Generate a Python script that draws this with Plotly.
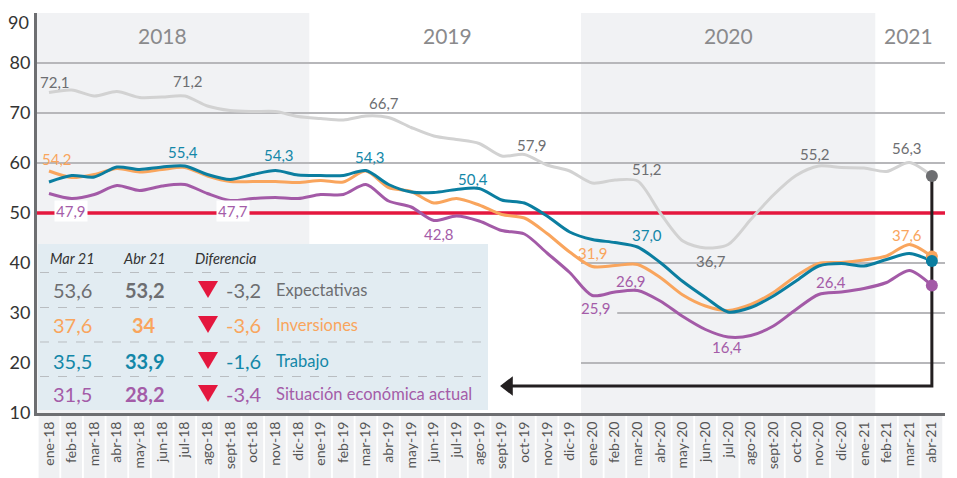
import plotly.graph_objects as go

months = ["ene-18","feb-18","mar-18","abr-18","may-18","jun-18","jul-18","ago-18","sept-18","oct-18","nov-18","dic-18",
          "ene-19","feb-19","mar-19","abr-19","may-19","jun-19","jul-19","ago-19","sept-19","oct-19","nov-19","dic-19",
          "ene-20","feb-20","mar-20","abr-20","may-20","jun-20","jul-20","ago-20","sept-20","oct-20","nov-20","dic-20",
          "ene-21","feb-21","mar-21","abr-21"]

expectativas = [74.1,74.6,73.4,74.3,73.1,73.2,73.4,71.4,70.5,70.3,70.3,69.3,
                68.9,68.6,69.4,69.1,67.1,65.4,64.7,63.9,61.4,61.7,59.6,58.4,
                56.0,56.6,56.4,50.0,44.4,43.0,43.7,48.7,53.6,57.5,59.4,59.1,
                59.0,58.3,60.1,57.4]
inversiones = [58.4,57.1,57.7,58.9,58.2,58.7,59.1,57.4,56.3,56.3,56.3,56.1,
               56.5,56.2,58.4,55.1,54.3,52.0,52.9,51.6,49.7,49.0,45.9,42.2,
               39.3,39.5,39.7,37.1,33.6,31.4,30.5,31.7,34.1,37.4,39.9,40.1,
               40.6,41.4,43.7,41.3]
trabajo = [56.2,57.5,57.2,59.2,58.7,59.2,59.4,57.7,56.7,57.7,58.5,57.6,
           57.5,57.5,58.5,55.7,54.2,54.1,54.7,54.9,52.6,52.0,49.4,46.2,
           44.7,44.1,43.2,40.1,36.3,33.1,30.2,31.1,33.4,36.4,39.4,39.9,
           39.4,40.7,41.9,40.4]
situacion = [53.9,52.9,53.7,55.5,54.5,55.4,55.7,53.9,52.5,52.9,53.1,52.9,
             53.7,53.7,55.7,52.4,51.2,48.5,49.4,48.4,46.5,45.8,42.0,38.1,
             33.5,34.2,34.5,32.4,29.3,26.7,25.2,25.5,27.4,30.7,33.7,34.2,
             34.9,36.1,38.5,35.5]

series_names = ["Expectativas", "Inversiones", "Trabajo", "Situación económica actual"]
mar21 = ["53,6", "37,6", "35,5", "31,5"]
abr21 = ["53,2", "34", "33,9", "28,2"]
diferencia = ["-3,2", "-3,6", "-1,6", "-3,4"]
years = ["2018", "2019", "2020", "2021"]
y_ticks = [10, 20, 30, 40, 50, 60, 70, 80]
y_top_label = "90"

# (series index, month index, label text, xshift, yshift)
point_labels = [
    (0, 0, "72,1", 6, 11), (0, 6, "71,2", 3, 15), (0, 15, "66,7", -5, 15), (0, 21, "57,9", 8, 10),
    (0, 26, "51,2", 9, 12), (0, 29, "36,7", 6, -13), (0, 34, "55,2", -4, 12), (0, 38, "56,3", -2, 15),
    (1, 0, "54,2", 8, 12), (1, 24, "31,9", 1, 14), (1, 38, "37,6", -2, 10),
    (2, 6, "55,4", -2, 14), (2, 10, "54,3", 4, 16), (2, 14, "54,3", 4, 14), (2, 19, "50,4", -6, 10),
    (2, 26, "37,0", 9, 12),
    (3, 1, "47,9", -1, -12), (3, 8, "47,7", 3, -10), (3, 17, "42,8", 5, -13), (3, 24, "25,9", 4, -12),
    (3, 26, "26,9", -7, 10), (3, 30, "16,4", -1, -10), (3, 34, "26,4", 12, 13),
]

data = [expectativas, inversiones, trabajo, situacion]
line_colors = ["#d2d2d2", "#f9a55d", "#0b7ea0", "#a35aa7"]
text_colors = ["#6d6e71", "#f9a55d", "#1387a8", "#a45ca8"]
marker_colors = ["#6d6e71", "#f9a55d", "#0b7ea0", "#a35aa7"]

FONT = "Lato, 'Open Sans', sans-serif"
W, H = 957, 478
L, R, T, B = 37, 12, 13, 65
PW = W - L - R
PH = H - T - B
XMIN, XMAX = -0.53, 39.58

def px(xp):
    return (xp - L) / PW

def py(yp):
    return (H - B - yp) / PH

fig = go.Figure()
n = len(months)
xs = list(range(n))

shapes = []
# year bands
shapes.append(dict(type="rect", xref="x", yref="paper", x0=XMIN, x1=11.5, y0=0, y1=1,
                   fillcolor="#f1f2f4", line_width=0, layer="below"))
shapes.append(dict(type="rect", xref="x", yref="paper", x0=23.5, x1=36.5, y0=0, y1=1,
                   fillcolor="#f1f2f4", line_width=0, layer="below"))
# tick label cells
for i in xs:
    shapes.append(dict(type="rect", xref="x", yref="paper", x0=i - 0.46, x1=i + 0.46,
                       y0=py(415), y1=py(480), fillcolor="#eff0f2", line_width=0, layer="below"))
# gridlines
for v in [60, 70, 80]:
    shapes.append(dict(type="line", xref="x", yref="y", x0=XMIN, x1=XMAX, y0=v, y1=v,
                       line=dict(color="#b7b7ba", width=2), layer="below"))
for v, start in [(40, 23.5), (30, 25.1), (20, 23.5)]:
    shapes.append(dict(type="line", xref="x", yref="y", x0=start, x1=XMAX, y0=v, y1=v,
                       line=dict(color="#b7b7ba", width=2), layer="below"))
# red reference line
shapes.append(dict(type="line", xref="x", yref="y", x0=XMIN, x1=XMAX, y0=50, y1=50,
                   line=dict(color="#e4173e", width=3.5), layer="below"))
# table box
shapes.append(dict(type="rect", xref="paper", yref="paper", x0=px(38), x1=px(488), y0=py(410), y1=py(244),
                   fillcolor="#e2ecf2", line_width=0, layer="below"))
row_y = [290, 325, 361, 394]
for sep in [272.5, 307.5, 342, 376.5]:
    shapes.append(dict(type="line", xref="paper", yref="paper", x0=px(40), x1=px(486), y0=py(sep), y1=py(sep),
                       line=dict(color="#b9bdc1", width=1, dash="dash"), layer="below"))
# red triangles
for ry in row_y:
    path = f"M {px(198)} {py(ry - 9)} L {px(218)} {py(ry - 9)} L {px(208)} {py(ry + 8)} Z"
    shapes.append(dict(type="path", xref="paper", yref="paper", path=path,
                       fillcolor="#e4173e", line_width=0, layer="above"))

# arrow (from last Expectativas point down and left)
arrow_y = 15.4
arrow_x_end = 20.3
fig.add_trace(go.Scatter(x=[n - 1, n - 1, arrow_x_end], y=[expectativas[-1], arrow_y, arrow_y],
                         mode="lines", line=dict(color="#231f20", width=3), hoverinfo="skip", showlegend=False))
fig.add_trace(go.Scatter(x=[arrow_x_end], y=[arrow_y], mode="markers",
                         marker=dict(symbol="triangle-left", size=17, color="#231f20"),
                         hoverinfo="skip", showlegend=False))

for k in range(4):
    fig.add_trace(go.Scatter(x=xs, y=data[k], mode="lines", name=series_names[k],
                             line=dict(color=line_colors[k], width=3, shape="spline", smoothing=0.8),
                             showlegend=False))
for k in range(4):
    fig.add_trace(go.Scatter(x=[n - 1], y=[data[k][-1]], mode="markers",
                             marker=dict(color=marker_colors[k], size=12), showlegend=False, hoverinfo="skip"))

annotations = []
for s, i, txt, dx, dy in point_labels:
    a = dict(x=i, y=data[s][i], xref="x", yref="y", text=txt, showarrow=False,
             xanchor="center", yanchor="middle",
             xshift=dx, yshift=dy, font=dict(family=FONT, size=15, color=text_colors[s]))
    if txt in ("47,9", "47,7"):
        a["bgcolor"] = "white"
        a["borderpad"] = 1
    annotations.append(a)

def ptext(txt, xp, yp, size, color, anchor="center"):
    return dict(x=px(xp), y=py(yp), xref="paper", yref="paper", text=txt, showarrow=False,
                xanchor=anchor, yanchor="middle", font=dict(family=FONT, size=size, color=color))

# top y label (drawn slightly below the axis top, as in the original)
annotations.append(ptext(y_top_label, 31, 22, 18, "#333333", "right"))

# year labels
for yr, xp in zip(years, [162, 447, 728, 908]):
    annotations.append(ptext(yr, xp, 35, 21, "#8a8a8c"))

# table header
annotations.append(ptext("<i>Mar 21</i>", 72, 258, 14.5, "#333333"))
annotations.append(ptext("<i>Abr 21</i>", 144, 258, 14.5, "#333333"))
annotations.append(ptext("<i>Diferencia</i>", 193, 258, 14.5, "#333333", "left"))
for k in range(4):
    c = text_colors[k]
    ry = row_y[k]
    annotations.append(ptext(mar21[k], 72, ry, 20, c))
    annotations.append(ptext(f"<b>{abr21[k]}</b>", 144, ry, 20, c))
    annotations.append(ptext(diferencia[k], 224, ry, 20, c, "left"))
    annotations.append(ptext(series_names[k], 274, ry, 16.5, c, "left"))

fig.update_layout(
    width=W, height=H,
    margin=dict(l=L, r=R, t=T, b=B, autoexpand=False),
    paper_bgcolor="white", plot_bgcolor="white",
    shapes=shapes, annotations=annotations,
    showlegend=False,
    xaxis=dict(range=[XMIN, XMAX], tickmode="array", tickvals=xs, ticktext=months, tickangle=-90,
               automargin=False,
               showgrid=False, zeroline=False, showline=True, linecolor="#6d6e71", linewidth=3,
               tickfont=dict(family=FONT, size=14, color="#555555"), ticks=""),
    yaxis=dict(range=[10, 90], tickmode="array", tickvals=y_ticks,
               automargin=False,
               showgrid=False, zeroline=False, showline=True, linecolor="#6d6e71", linewidth=3,
               tickfont=dict(family=FONT, size=18, color="#333333"), ticks=""),
)

fig.write_html("out.html", config={"displayModeBar": False},
               post_script="document.body.style.margin='0';document.body.style.overflow='hidden';")
